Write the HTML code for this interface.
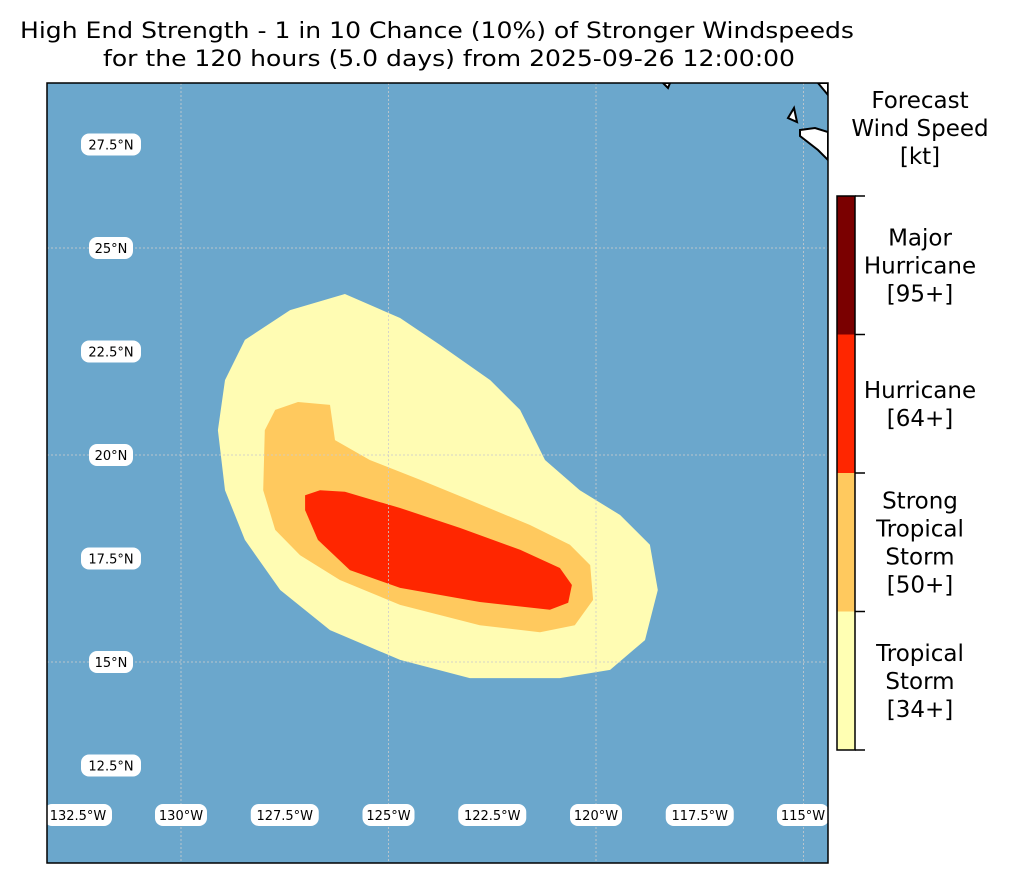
<!DOCTYPE html>
<html><head><meta charset="utf-8"><style>
body{margin:0;background:#fff;font-family:"Liberation Sans","DejaVu Sans",sans-serif;}
svg text{font-family:"DejaVu Sans","Liberation Sans",sans-serif;}
</style></head><body>
<svg id="chart" width="1015" height="884" viewBox="0 0 1015 884" xmlns="http://www.w3.org/2000/svg">
<text x="437" y="38" font-size="22" text-anchor="middle" textLength="834" lengthAdjust="spacingAndGlyphs">High End Strength - 1 in 10 Chance (10%) of Stronger Windspeeds</text>
<text x="449" y="66" font-size="22" text-anchor="middle" textLength="692" lengthAdjust="spacingAndGlyphs">for the 120 hours (5.0 days) from 2025-09-26 12:00:00</text>
<defs><clipPath id="mapclip"><rect x="47" y="83" width="781" height="780"/></clipPath></defs>
<rect x="47" y="83" width="781" height="780" fill="#6ba7cc"/>
<g id="shapes" clip-path="url(#mapclip)"></g>
<g id="grid" clip-path="url(#mapclip)"></g>
<g clip-path="url(#mapclip)">
<path d="M800,130 L815,128 L828,132 L828,160 L818,150 L800,136 Z M788,118 L794,108 L797,122 Z M818,83 L828,95 L828,83 Z M663,83 L668,88 L670,83 Z" fill="#fff" stroke="#000" stroke-width="2"/>
</g>
<g id="labels"></g>
<rect x="47" y="83" width="781" height="780" fill="none" stroke="#000" stroke-width="1.5"/>
<text x="920" y="108" font-size="23" text-anchor="middle">Forecast</text>
<text x="920" y="136" font-size="23" text-anchor="middle">Wind Speed</text>
<text x="920" y="164" font-size="23" text-anchor="middle">[kt]</text>
<g id="colorbar"></g>
</svg>
<script>
const lonTicks=[-132.5,-130,-127.5,-125,-122.5,-120,-117.5,-115];
const lonTickLabels=["132.5°W","130°W","127.5°W","125°W","122.5°W","120°W","117.5°W","115°W"];
const latTicks=[12.5,15,17.5,20,22.5,25,27.5];
const latTickLabels=["12.5°N","15°N","17.5°N","20°N","22.5°N","25°N","27.5°N"];
const gridLons=[-130,-125,-120,-115];
const gridLats=[15,20,25];
const tsLon=[-129.11,-128.94,-128.46,-127.37,-126.05,-124.72,-123.76,-122.55,-121.83,-121.23,-120.39,-119.42,-118.70,-118.51,-118.82,-119.66,-120.87,-123.04,-124.72,-126.41,-127.61,-128.46,-128.94];
const tsLat=[20.60,21.81,22.78,23.50,23.89,23.31,22.66,21.81,21.09,19.88,19.15,18.55,17.83,16.74,15.53,14.81,14.61,14.61,15.05,15.77,16.74,17.95,19.15];
const stsLon=[-127.98,-127.73,-127.18,-126.41,-126.29,-125.45,-124.24,-123.04,-121.59,-120.63,-120.14,-120.07,-120.51,-121.35,-122.80,-124.72,-126.17,-127.13,-127.73,-128.02];
const stsLat=[20.60,21.09,21.28,21.21,20.36,19.88,19.40,18.91,18.31,17.83,17.34,16.50,15.89,15.72,15.89,16.38,16.98,17.58,18.19,19.15];
const hurLon=[-127.01,-126.65,-126.05,-124.72,-123.28,-121.83,-120.87,-120.58,-120.67,-121.11,-122.80,-124.72,-125.93,-126.70,-127.01];
const hurLat=[19.03,19.15,19.11,18.72,18.24,17.71,17.27,16.86,16.43,16.26,16.45,16.79,17.22,17.95,18.67];
const cbLabels=[["Tropical","Storm","[34+]"],["Strong","Tropical","Storm","[50+]"],["Hurricane","[64+]"],["Major","Hurricane","[95+]"]];
const cbColors=["#ffffb3","#ffc95e","#ff2600","#7a0000"];

const NS="http://www.w3.org/2000/svg";
function xs(lon){return 181+(lon+130)*41.5;}
function ys(lat){return 455-(lat-20)*41.4;}
function mk(tag,attrs,parent){const e=document.createElementNS(NS,tag);for(const k in attrs)e.setAttribute(k,attrs[k]);parent.appendChild(e);return e;}
const shapes=document.getElementById('shapes');
function poly(lons,lats,color,name){
  const pts=lons.map((l,i)=>xs(l).toFixed(1)+','+ys(lats[i]).toFixed(1)).join(' ');
  const p=mk('polygon',{points:pts,fill:color},shapes);
  
  
}
poly(tsLon,tsLat,"#fffcb3","tropical-storm-area");
poly(stsLon,stsLat,"#ffc95e","strong-tropical-storm-area");
poly(hurLon,hurLat,"#ff2600","hurricane-area");
const grid=document.getElementById('grid');
gridLons.forEach(l=>{const e=mk('line',{x1:xs(l),x2:xs(l),y1:83,y2:863,stroke:'#ccc','stroke-width':1,'stroke-dasharray':'2,2',opacity:0.8},grid);

});
gridLats.forEach(l=>{const e=mk('line',{x1:47,x2:828,y1:ys(l),y2:ys(l),stroke:'#ccc','stroke-width':1,'stroke-dasharray':'2,2',opacity:0.8},grid);

});
const labels=document.getElementById('labels');
function boxLabel(cx,cy,txt,name){
  const w=txt.length*8+12;
  const r=mk('rect',{x:cx-w/2,y:cy-11,width:w,height:22,rx:8,fill:'#fff'},labels);
  
  
  const t=mk('text',{x:cx,y:cy+5,'font-size':13,'text-anchor':'middle'},labels);
  t.textContent=txt;
  
  
}
latTicks.forEach((l,i)=>boxLabel(111,ys(l),latTickLabels[i],'latitude-label'));
lonTicks.forEach((l,i)=>{let cx=xs(l);cx=Math.max(78,Math.min(803,cx));boxLabel(cx,815,lonTickLabels[i],'longitude-label');});
const cb=document.getElementById('colorbar');
const cbTop=196,cbBot=750,cbX=837,cbW=18,n=cbColors.length,seg=(cbBot-cbTop)/n;
cbColors.forEach((c,i)=>{
  const y0=cbBot-(i+1)*seg;
  const r=mk('rect',{x:cbX,y:y0,width:cbW,height:seg,fill:c},cb);
  
  
  const lines=cbLabels[i];const lh=28;const mid=y0+seg/2;
  lines.forEach((s,j)=>{const t=mk('text',{x:920,y:mid-(lines.length-1)*lh/2+j*lh+8,'font-size':23,'text-anchor':'middle'},cb);t.textContent=s;
  
  });
});
const fr=mk('rect',{x:cbX,y:cbTop,width:cbW,height:cbBot-cbTop,fill:'none',stroke:'#000','stroke-width':1.5},cb);


for(let i=0;i<=n;i++){const y=cbBot-i*seg;const tk=mk('line',{x1:cbX+cbW,x2:cbX+cbW+10,y1:y,y2:y,stroke:'#000','stroke-width':1.5},cb);

}
</script>
</body></html>
